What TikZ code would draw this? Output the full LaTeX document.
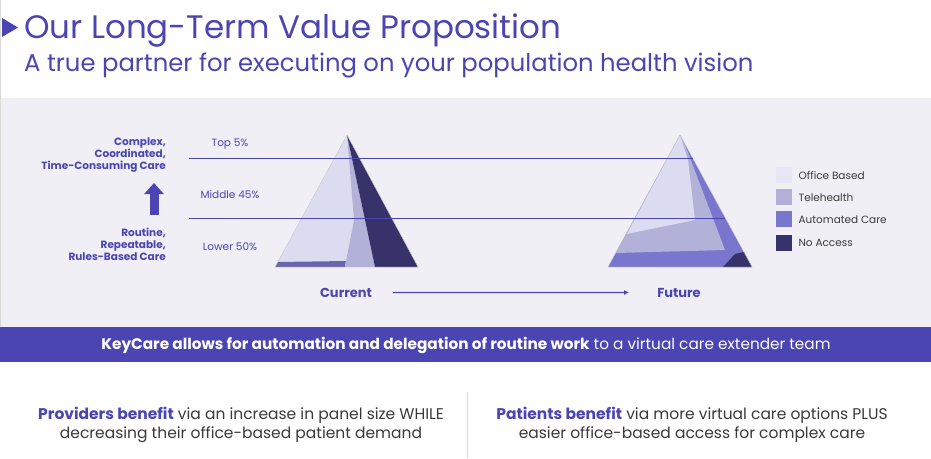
\documentclass[tikz,border=0pt]{standalone}
\usepackage{fontspec}
\setmainfont{Poppins}
\usetikzlibrary{arrows.meta,positioning}

\definecolor{kcpurple}{HTML}{4B45B3}
\definecolor{kcgray}{HTML}{EFEFF5}
\definecolor{officec}{HTML}{DCDCF1}
\definecolor{telec}{HTML}{B2B1D8}
\definecolor{autoc}{HTML}{7A76CD}
\definecolor{noacc}{HTML}{37336A}
\definecolor{txtgray}{HTML}{3A3A3A}

\begin{document}
\begin{tikzpicture}[x=1pt, y=-1pt,
  care/.style={font=\bfseries\fontsize{10.5}{12}\selectfont, text=kcpurple, align=right, inner sep=0pt, anchor=east},
  tier/.style={font=\fontsize{10.5}{12}\selectfont, text=kcpurple, inner sep=0pt, anchor=base},
  swatch/.style={minimum size=16pt, inner sep=0pt, anchor=north west},
  key/.style={font=\fontsize{10.5}{12}\selectfont, text=txtgray, inner sep=0pt, right=6pt of #1},
  stage/.style={font=\bfseries\fontsize{13}{14}\selectfont, text=kcpurple, inner sep=0pt, anchor=base},
  benefit/.style={font=\fontsize{15.5}{19}\selectfont, text=txtgray, align=center, inner sep=0pt},
  face/.style={draw=black!22, line width=0.4pt},
  tierline/.style={kcpurple, line width=1pt}]
\useasboundingbox (0,0) rectangle (931,458);
\fill[white] (0,0) rectangle (931,458);
\fill[kcgray] (0,98) rectangle (931,327);
\fill[kcpurple] (0,327) rectangle (931,362);
\draw[black!15] (0.5,0) -- (0.5,327);

% heading
\fill[kcpurple] (2,18) -- (18,27.5) -- (2,37) -- cycle;
\node[anchor=base west, inner sep=0pt, text=kcpurple, font=\fontsize{32.5}{34}\selectfont] (title) at (24,38) {Our Long-Term Value Proposition};
\node[anchor=base west, inner sep=0pt, text=kcpurple, font=\fontsize{24.3}{26}\selectfont] (subtitle) at (24,71) {A true partner for executing on your population health vision};

% care levels
\node[care] (complex) at (166,155) {Complex,\\Coordinated,\\Time-Consuming Care};
\node[care] (routine) at (166,244) {Routine,\\Repeatable,\\Rules-Based Care};
\coordinate (up0) at (154,215);
\coordinate (up1) at (154,183);
\draw[kcpurple, line width=9pt, -{Triangle[width=19pt,length=11pt]}] (up0) -- (up1);

\node[tier] (top) at (230,146) {Top 5\%};
\node[tier] (mid) at (230,198) {Middle 45\%};
\node[tier] (low) at (230,250) {Lower 50\%};

% current pyramid
\fill[officec] (347,135) -- (278,262) -- (346,261) -- (354,220) -- cycle;
\fill[autoc!85!black] (278,262) -- (275,267) -- (345,267) -- (346,261) -- cycle;
\fill[telec] (347,135) -- (354,220) -- (346,261) -- (345,267) -- (375,267) -- cycle;
\fill[noacc] (347,135) -- (375,267) -- (418,267) -- cycle;
\draw[face] (275,267) -- (347,135) -- (418,267) -- cycle;

% future pyramid
\fill[autoc] (608,267) -- (680,135) -- (752,267) -- cycle;
\fill[telec] (680,135) -- (616,253) -- (725,250) -- (684,142) -- cycle;
\fill[officec] (680,135) -- (627,234) -- (695,220) -- (688,160) -- cycle;
\fill[noacc] (723,267) -- (752,267) -- (744,252) -- (735,254) -- cycle;
\draw[face] (608,267) -- (680,135) -- (752,267) -- cycle;

% tier lines
\coordinate (l1a) at (189,158);
\coordinate (l1b) at (693,158);
\coordinate (l2a) at (189,218);
\coordinate (l2b) at (725,218);
\draw[tierline] (l1a) -- (l1b);
\draw[tierline] (l2a) -- (l2b);

% legend
\node[swatch, fill=officec!70!white] (sw1) at (776,167) {};
\node[swatch, fill=telec] (sw2) at (776,189) {};
\node[swatch, fill=autoc] (sw3) at (776,211) {};
\node[swatch, fill=noacc] (sw4) at (776,235) {};
\node[key=sw1] (k1) {Office Based};
\node[key=sw2] (k2) {Telehealth};
\node[key=sw3] (k3) {Automated Care};
\node[key=sw4] (k4) {No Access};

% current -> future
\node[stage] (cur) at (346,297) {Current};
\node[stage] (fut) at (679,297) {Future};
\draw[kcpurple, line width=1.2pt, shorten <=21pt, shorten >=28pt, -{Latex[length=5pt,width=5pt]}] (cur) -- (fut);

% band and benefits
\node[anchor=base, inner sep=0pt, text=white, font=\fontsize{15.3}{16}\selectfont] (keycare) at (466,349) {\textbf{KeyCare allows for automation and delegation of routine work} to a virtual care extender team};
\node[benefit] (prov) at (241,425) {\textcolor{kcpurple}{\textbf{Providers benefit}} via an increase in panel size WHILE\\decreasing their office-based patient demand};
\node[benefit] (pat) at (692,425) {\textcolor{kcpurple}{\textbf{Patients benefit}} via more virtual care options PLUS\\easier office-based access for complex care};
\coordinate (div0) at (467,392);
\coordinate (div1) at (467,458);
\draw[black!15, line width=0.8pt] (div0) -- (div1);
\end{tikzpicture}
\end{document}
